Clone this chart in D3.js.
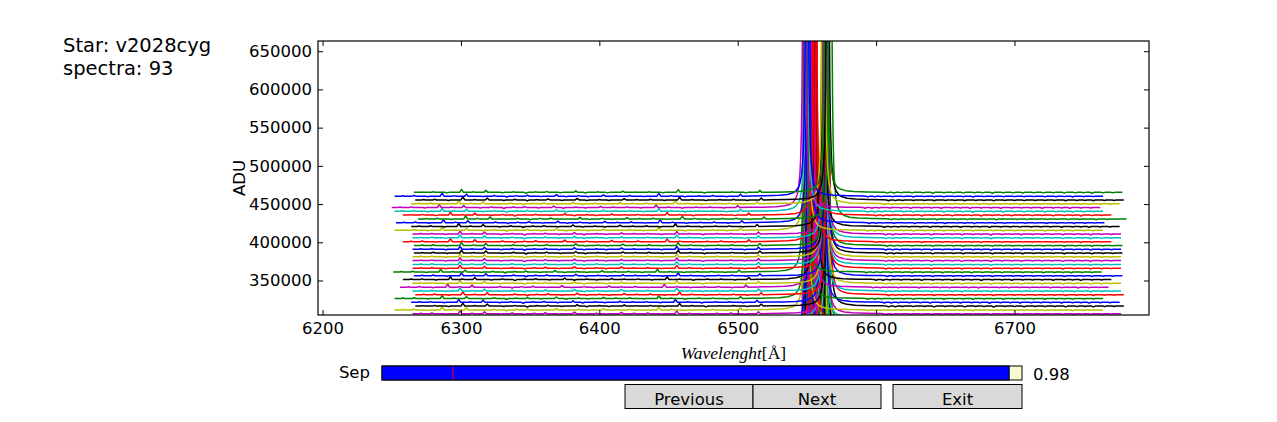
<!DOCTYPE html>
<html>
<head>
<meta charset="utf-8">
<script src="https://d3js.org/d3.v7.min.js"></script>
<style>
  body { margin: 0; background: #fff; }
  text { font-family: "DejaVu Sans", sans-serif; }
</style>
</head>
<body>
<svg id="vis"></svg>
<script>
  var width = 1277;
  var height = 422;

  // header texts
  var starName = 'v2028cyg';
  var spectraCount = 93;

  var xTicks = [6200, 6300, 6400, 6500, 6600, 6700];
  var yTicks = [350000, 400000, 450000, 500000, 550000, 600000, 650000];

  // old matplotlib colour cycle b g r c m y k
  var colorCycle = ['#0000ff', '#008000', '#ff0000', '#00bfbf', '#bf00bf', '#bfbf00', '#000000'];

  // first wavelength of every spectrum (A), spectrum 0 .. 92
  var spectrumStart = [
    6252, 6265, 6257, 6266, 6255, 6264, 6266, 6253, 6267, 6258,
    6252, 6256, 6265, 6265, 6251, 6266, 6257, 6265, 6250, 6263,
    6267, 6265, 6252, 6258, 6266, 6256, 6265, 6264, 6252, 6266,
    6256, 6253, 6265, 6252, 6266, 6264, 6267, 6258, 6265, 6256,
    6265, 6253, 6252, 6265, 6257, 6266, 6251, 6264, 6267, 6266,
    6252, 6258, 6265, 6256, 6266, 6265, 6253, 6266, 6257, 6264,
    6265, 6252, 6267, 6264, 6252, 6267, 6265, 6256, 6265, 6258,
    6266, 6251, 6265, 6265, 6265, 6265, 6266, 6265, 6266, 6258,
    6265, 6265, 6252, 6264, 6253, 6269, 6258, 6252, 6250, 6264,
    6267, 6252, 6266
  ];
  var spectrumLength = 512;     // A covered by each spectrum
  var sepStep = 4960;           // vertical separation between spectra (ADU)
  var continuum = 9000;         // continuum level of spectrum 0 (ADU)

  // small lines, offset from spectrum start (A) and height above continuum (ADU)
  var featureOffset = [6, 14, 24, 34.4, 43, 52, 64, 72, 81, 88, 96, 106, 117, 124, 133,
                       140, 151, 160, 170, 180, 191, 200, 210, 220, 230, 240, 250,
                       342, 347, 352, 360, 368, 375, 383, 390, 397, 405, 411, 418, 426,
                       433, 440, 448, 455, 462, 470, 478, 484, 490, 498, 505];
  var featureHeight = [600, 900, -700, 3800, 700, 2600, -600, 900, -1300, 700, 1200, -600, 2000, -900, 700,
                       -700, 1600, 600, 900, -600, 3600, 700, -900, 600, 800, -700, 2600,
                       -1000, -900, -600, -700, -600, -1100, -600, -700, -1000, -600, -700, -1200, -600,
                       -700, -900, -600, -700, -600, -1000, -700, -600, -1100, -700, -600];
  var featureHalfWidth = 1.4;

  // H-alpha emission profile, offset of the line from spectrum start and flux vs distance
  var halphaOffset = 298;
  var halphaDelta = [0, 0.3, 0.6, 0.9, 1.2, 1.6, 2, 2.5, 3, 4, 5, 6, 8, 10, 14, 20, 30, 40];
  var halphaFlux = [1000000, 830000, 550000, 350000, 235000, 145000, 98000, 65000, 46000,
                    26500, 17200, 12000, 6800, 4400, 2250, 1100, 500, 280];

  // slider and buttons
  var sepMin = 0, sepMax = 1, sepValue = 0.98, sepInit = 0.111;
  var buttonLabels = ['Previous', 'Next', 'Exit'];

  var plot = {left: 318, right: 1149, top: 41, bottom: 315};

  var svg = d3.select('#vis')
      .attr('width', width)
      .attr('height', height);

  var xscale = d3.scaleLinear()
      .domain([6196.7, 6797.2])
      .range([plot.left, plot.right]);

  var yscale = d3.scaleLinear()
      .domain([304860, 663350])
      .range([plot.bottom, plot.top]);

  // header
  svg.append('text').attr('x', 63).attr('y', 52).attr('font-size', 19.5)
      .text('Star: ' + starName);
  svg.append('text').attr('x', 63).attr('y', 75).attr('font-size', 19.5)
      .text('spectra: ' + spectraCount);

  // template of one spectrum: [offset from start, flux above continuum]
  var template = [[0, 0], [spectrumLength, 0]];
  featureOffset.forEach(function(o, k) {
      template.push([o - featureHalfWidth, 0], [o, featureHeight[k]], [o + featureHalfWidth, 0]);
  });
  halphaDelta.forEach(function(d, k) {
      template.push([halphaOffset - d, halphaFlux[k]]);
      if (d > 0) template.push([halphaOffset + d, halphaFlux[k]]);
  });
  template.sort(function(a, b) { return a[0] - b[0]; });

  svg.append('clipPath').attr('id', 'clip')
    .append('rect')
      .attr('x', plot.left).attr('y', plot.top)
      .attr('width', plot.right - plot.left).attr('height', plot.bottom - plot.top);

  var spectra = spectrumStart.map(function(s, i) { return {start: s, index: i}; });

  svg.append('g').attr('clip-path', 'url(#clip)')
    .selectAll('path')
    .data(spectra)
    .enter().append('path')
      .attr('fill', 'none')
      .attr('stroke', function(d) { return colorCycle[d.index % 7]; })
      .attr('stroke-width', 1.5)
      .attr('stroke-linejoin', 'round')
      .attr('d', function(d) {
          var base = continuum + sepStep * d.index;
          return d3.line()
              .x(function(p) { return xscale(d.start + p[0]); })
              .y(function(p) { return yscale(base + p[1]); })(template);
      });

  // axes, ticks pointing inwards
  var gl = svg.append('g').attr('transform', 'translate(' + plot.left + ',0)')
      .call(d3.axisLeft(yscale).tickValues(yTicks).tickSize(-5).tickPadding(6).tickFormat(d3.format('d')));
  var gb = svg.append('g').attr('transform', 'translate(0,' + plot.bottom + ')')
      .call(d3.axisBottom(xscale).tickValues(xTicks).tickSize(-5).tickPadding(7).tickFormat(d3.format('d')));
  var gr = svg.append('g').attr('transform', 'translate(' + plot.right + ',0)')
      .call(d3.axisRight(yscale).tickValues(yTicks).tickSize(-5).tickFormat(''));
  var gt = svg.append('g').attr('transform', 'translate(0,' + plot.top + ')')
      .call(d3.axisTop(xscale).tickValues(xTicks).tickSize(-5).tickFormat(''));

  [gl, gb, gr, gt].forEach(function(g) {
      g.select('.domain').remove();
      g.selectAll('text').attr('font-size', 16.5).attr('fill', '#000')
          .style('font-family', '"DejaVu Sans", sans-serif');
      g.selectAll('line').attr('stroke', '#000');
  });

  svg.append('rect')
      .attr('x', plot.left).attr('y', plot.top)
      .attr('width', plot.right - plot.left).attr('height', plot.bottom - plot.top)
      .attr('fill', 'none').attr('stroke', '#000').attr('stroke-width', 1.2);

  // axis labels
  svg.append('text')
      .attr('transform', 'translate(245,' + ((plot.top + plot.bottom) / 2) + ') rotate(-90)')
      .attr('text-anchor', 'middle').attr('font-size', 16.5)
      .text('ADU');

  var xl = svg.append('text')
      .attr('x', (plot.left + plot.right) / 2).attr('y', 359)
      .attr('text-anchor', 'middle').attr('font-size', 17.5)
      .style('font-family', '"Liberation Serif", serif');
  xl.append('tspan').attr('font-style', 'italic').text('Wavelenght');
  xl.append('tspan').text('[Å]');

  // slider
  var sscale = d3.scaleLinear().domain([sepMin, sepMax]).range([382, 1022]);
  svg.append('rect')
      .attr('x', sscale(sepMin)).attr('y', 366)
      .attr('width', sscale(sepMax) - sscale(sepMin)).attr('height', 14)
      .attr('fill', '#fafad2').attr('stroke', '#000').attr('stroke-width', 1);
  svg.append('rect')
      .attr('x', sscale(sepMin)).attr('y', 366)
      .attr('width', sscale(sepValue) - sscale(sepMin)).attr('height', 14)
      .attr('fill', '#0000ff').attr('stroke', '#000').attr('stroke-width', 1);
  svg.append('line')
      .attr('x1', sscale(sepInit)).attr('x2', sscale(sepInit))
      .attr('y1', 366.5).attr('y2', 379.5)
      .attr('stroke', '#ff0000').attr('stroke-width', 1);
  svg.append('text')
      .attr('x', 370).attr('y', 378).attr('text-anchor', 'end').attr('font-size', 16.5)
      .text('Sep');
  svg.append('text')
      .attr('x', 1033).attr('y', 380).attr('font-size', 16.5)
      .text(sepValue.toFixed(2));

  // buttons
  var buttonX = [625, 753, 893];
  var buttonW = [128, 128, 129];
  var btn = svg.selectAll('g.button')
      .data(buttonLabels)
      .enter().append('g').attr('class', 'button');
  btn.append('rect')
      .attr('x', function(d, i) { return buttonX[i]; })
      .attr('y', 384.5)
      .attr('width', function(d, i) { return buttonW[i]; })
      .attr('height', 24)
      .attr('fill', '#d9d9d9').attr('stroke', '#000').attr('stroke-width', 1);
  btn.append('text')
      .attr('x', function(d, i) { return buttonX[i] + buttonW[i] / 2; })
      .attr('y', 404.5)
      .attr('text-anchor', 'middle').attr('font-size', 16.5)
      .text(function(d) { return d; });
</script>
</body>
</html>
